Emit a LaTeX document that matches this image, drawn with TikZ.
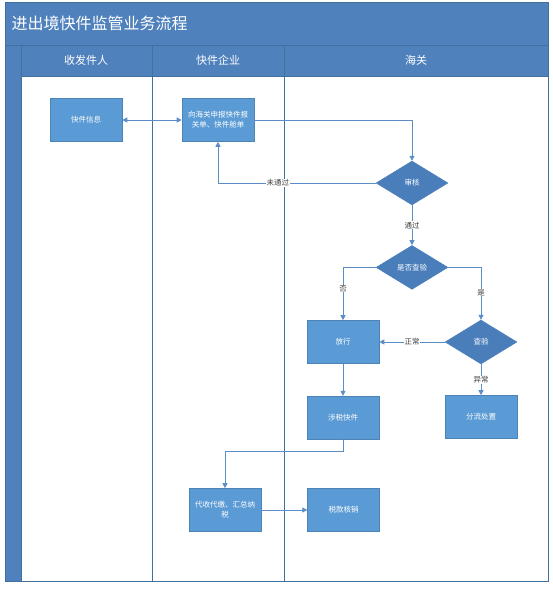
\documentclass[tikz,border=0pt]{standalone}
\usepackage{fontspec}
\newfontfamily\cjk{Noto Sans CJK SC}
\usetikzlibrary{positioning,shapes.geometric,arrows.meta}

\definecolor{titleblue}{HTML}{4F81BD}
\definecolor{boxblue}{HTML}{5B9BD5}
\definecolor{diablue}{HTML}{4A7EBB}
\definecolor{lineblue}{HTML}{5B8EC6}
\definecolor{frameblue}{HTML}{41719C}

\tikzset{
  proc/.style={rectangle, fill=boxblue, draw=boxblue!85!black, line width=0.6pt, minimum width=72pt, minimum height=43pt, inner sep=1pt, align=center, text=white, font=\cjk\fontsize{7.5}{10}\selectfont},
  dec/.style={diamond, fill=diablue, draw=diablue, minimum width=72pt, minimum height=44pt, inner sep=0pt, text=white, font=\cjk\fontsize{7.5}{10}\selectfont},
  lbl/.style={fill=white, inner sep=0.6pt, text=black!75, font=\cjk\fontsize{7.5}{9}\selectfont},
  head/.style={text=white, font=\cjk\fontsize{11}{13}\selectfont},
  title/.style={text=white, font=\cjk\fontsize{16}{18}\selectfont},
  flow/.style={draw=lineblue, line width=0.8pt, -{Triangle[length=5pt,width=5pt]}},
  lane/.style={draw=frameblue, line width=0.8pt},
}

\begin{document}
\begin{tikzpicture}[x=1pt,y=-1pt]
    \useasboundingbox (0,0) rectangle (553,589) ;

    % pool and lanes
    \fill[titleblue] (5,2) rectangle (548,76) ; %
    \fill[titleblue] (5,76) rectangle (21,581) ; %
    \draw[lane] (5,2) rectangle (548,581) ; %
    \draw[lane] (5,45) -- (548,45) ; %
    \draw[lane] (21,76) -- (548,76) ; %
    \draw[lane] (21,45) -- (21,581) ; %
    \draw[lane] (152,45) -- (152,581) ; %
    \draw[lane] (284,45) -- (284,581) ; %

    \node[title, anchor=west] (title) at (8,23) {进出境快件监管业务流程} ; %
    \node[head] (h_sender) at (86,60) {收发件人} ; %
    \node[head] (h_firm) at (218,60) {快件企业} ; %
    \node[head] (h_customs) at (416,60) {海关} ; %

    % steps
    \node[proc] (info) at (86,120) {快件信息} ; %
    \node[proc] (declare) at (218,120) {向海关申报快件报\\关单、快件舱单} ; %
    \node[dec] (review) at (412,183) {审核} ; %
    \node[dec, below=40pt of review] (check) {是否查验} ; %
    \node[proc] (release) at (343,342) {放行} ; %
    \node[dec] (inspect) at (481,342) {查验} ; %
    \node[proc, below=32pt of release] (taxable) {涉税快件} ; %
    \node[proc, below=31pt of inspect] (sort) {分流处置} ; %
    \node[proc] (collect) at (225,510) {代收代缴、汇总纳\\税} ; %
    \node[proc, right=46pt of collect] (writeoff) {税款核销} ; %

    % flows
    \draw[flow, {Triangle[length=5pt,width=5pt]}-{Triangle[length=5pt,width=5pt]}] (info) -- (declare) ; %
    \draw[flow] (declare.east) -| (review.north) ; %
    \draw[flow] (review.west) -| node[lbl, pos=0.31] (l_fail) {未通过} (declare.south) ; %
    \draw[flow] (review) -- node[lbl] (l_pass) {通过} (check) ; %
    \draw[flow] (check.west) -| node[lbl, pos=0.7] (l_no) {否} (release.north) ; %
    \draw[flow] (check.east) -| node[lbl, pos=0.74] (l_yes) {是} (inspect.north) ; %
    \draw[flow] (inspect) -- node[lbl] (l_ok) {正常} (release) ; %
    \draw[flow] (inspect) -- node[lbl] (l_bad) {异常} (sort) ; %
    \draw[flow] (release) -- (taxable) ; %
    \draw[flow] (taxable.south) -- ++(0,12) -| (collect.north) ; %
    \draw[flow] (collect) -- (writeoff) ; %

\end{tikzpicture}
\end{document}
